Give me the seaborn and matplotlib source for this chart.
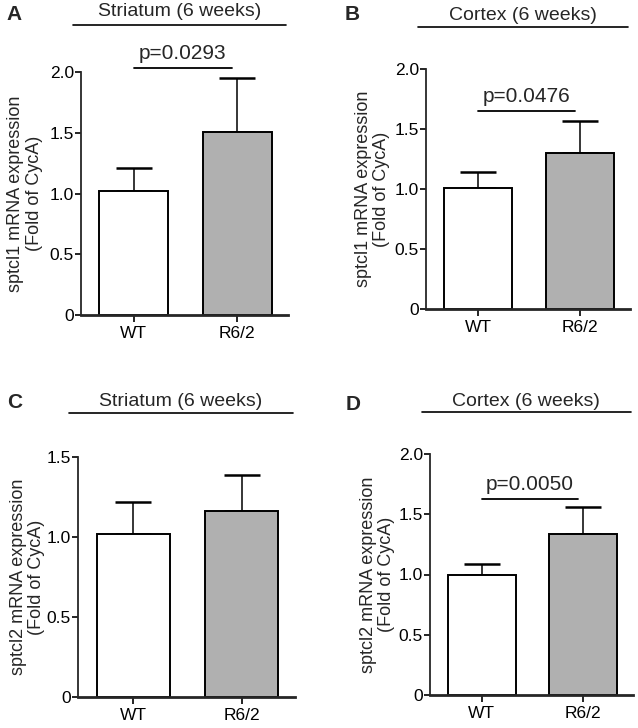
import matplotlib
matplotlib.use("Agg")
import matplotlib.pyplot as plt
import matplotlib.transforms as mtransforms
import pandas as pd
import seaborn as sns

# values
groups = ["WT", "R6/2"]
sptcl1_striatum_mean = [1.02, 1.51]
sptcl1_striatum_err = [0.19, 0.44]
sptcl1_cortex_mean = [1.01, 1.30]
sptcl1_cortex_err = [0.13, 0.27]
sptcl2_striatum_mean = [1.02, 1.16]
sptcl2_striatum_err = [0.20, 0.23]
sptcl2_cortex_mean = [1.00, 1.34]
sptcl2_cortex_err = [0.09, 0.22]

ticks_2 = [0, 0.5, 1.0, 1.5, 2.0]
ticklabels_2 = ["0", "0.5", "1.0", "1.5", "2.0"]
ticks_15 = [0, 0.5, 1.0, 1.5]
ticklabels_15 = ["0", "0.5", "1.0", "1.5"]

sns.set_theme(style="ticks")
plt.rcParams["font.family"] = ["Liberation Sans", "DejaVu Sans"]

W, H = 638, 728
fig = plt.figure(figsize=(W / 100, H / 100), dpi=100)
bar_colors = ["white", "#b0b0b0"]


def px_rect(x0, x1, y_top, y_bot):
    return [x0 / W, 1 - y_bot / H, (x1 - x0) / W, (y_bot - y_top) / H]


def panel(rect, means, errs, ymax, ticks, ticklabels, ylabel, title,
          letter, letter_xy, title_y, line_y, label_x, pval=None, p_y=None):
    ax = fig.add_axes(rect)
    df = pd.DataFrame({"group": groups, "value": means})
    sns.barplot(data=df, x="group", y="value", hue="group", palette=bar_colors,
                edgecolor="black", linewidth=1.4, width=0.67, errorbar=None,
                legend=False, ax=ax)
    ax.errorbar(range(len(groups)), means, yerr=[[0] * len(errs), errs],
                fmt="none", ecolor="black", elinewidth=1.1, capsize=13,
                capthick=1.8, zorder=1)
    for p in ax.patches:
        p.set_zorder(2)
    ax.set_xlim(-0.51, 1.49)
    ax.set_ylim(0, ymax)
    ax.set_yticks(ticks)
    ax.set_yticklabels(ticklabels)
    ax.set_xlabel("")
    ax.set_ylabel(ylabel, fontsize=13, linespacing=1.1)
    ax.yaxis.set_label_coords(label_x, 0.5)
    sns.despine(ax=ax)
    ax.spines["left"].set_linewidth(1.3)
    ax.spines["bottom"].set_linewidth(2.0)
    ax.tick_params(axis="both", labelsize=12.5, width=1.2, length=4,
                   colors="black", pad=1)
    ax.tick_params(axis="x", length=5, pad=3)

    blend = mtransforms.blended_transform_factory(ax.transAxes, fig.transFigure)
    ax.plot([-0.04, 0.99], [1 - line_y / H] * 2, color="black", lw=1.2,
            transform=blend, clip_on=False)
    ax.text(0.475, 1 - title_y / H, title, transform=blend, ha="center",
            va="center", fontsize=14)
    fig.text(letter_xy[0] / W, 1 - letter_xy[1] / H, letter, fontsize=15,
             fontweight="bold", ha="center", va="center")
    if pval is not None:
        ax.plot([0, 0.95], [p_y, p_y], color="black", lw=1.3, clip_on=False)
        ax.text(0.475, p_y + 0.02 * ymax, pval, ha="center", va="bottom",
                fontsize=15)
    return ax


ylab1 = "sptcl1 mRNA expression\n(Fold of CycA)"
ylab2 = "sptcl2 mRNA expression\n(Fold of CycA)"

panel(px_rect(81, 288, 72, 315), sptcl1_striatum_mean, sptcl1_striatum_err,
      2.0, ticks_2, ticklabels_2, ylab1, "Striatum (6 weeks)", "A", (14, 15),
      12, 25, -0.185, pval="p=0.0293", p_y=2.03)
panel(px_rect(426, 630, 69, 309), sptcl1_cortex_mean, sptcl1_cortex_err,
      2.0, ticks_2, ticklabels_2, ylab1, "Cortex (6 weeks)", "B", (352, 15),
      15, 27, -0.175, pval="p=0.0476", p_y=1.65)
panel(px_rect(78, 295, 457, 697), sptcl2_striatum_mean, sptcl2_striatum_err,
      1.5, ticks_15, ticklabels_15, ylab2, "Striatum (6 weeks)", "C", (15, 402),
      402, 413, -0.152)
panel(px_rect(430, 633, 454, 695), sptcl2_cortex_mean, sptcl2_cortex_err,
      2.0, ticks_2, ticklabels_2, ylab2, "Cortex (6 weeks)", "D", (353, 404),
      402, 412, -0.172, pval="p=0.0050", p_y=1.63)

fig.savefig("out.png", dpi=100, facecolor="white")
